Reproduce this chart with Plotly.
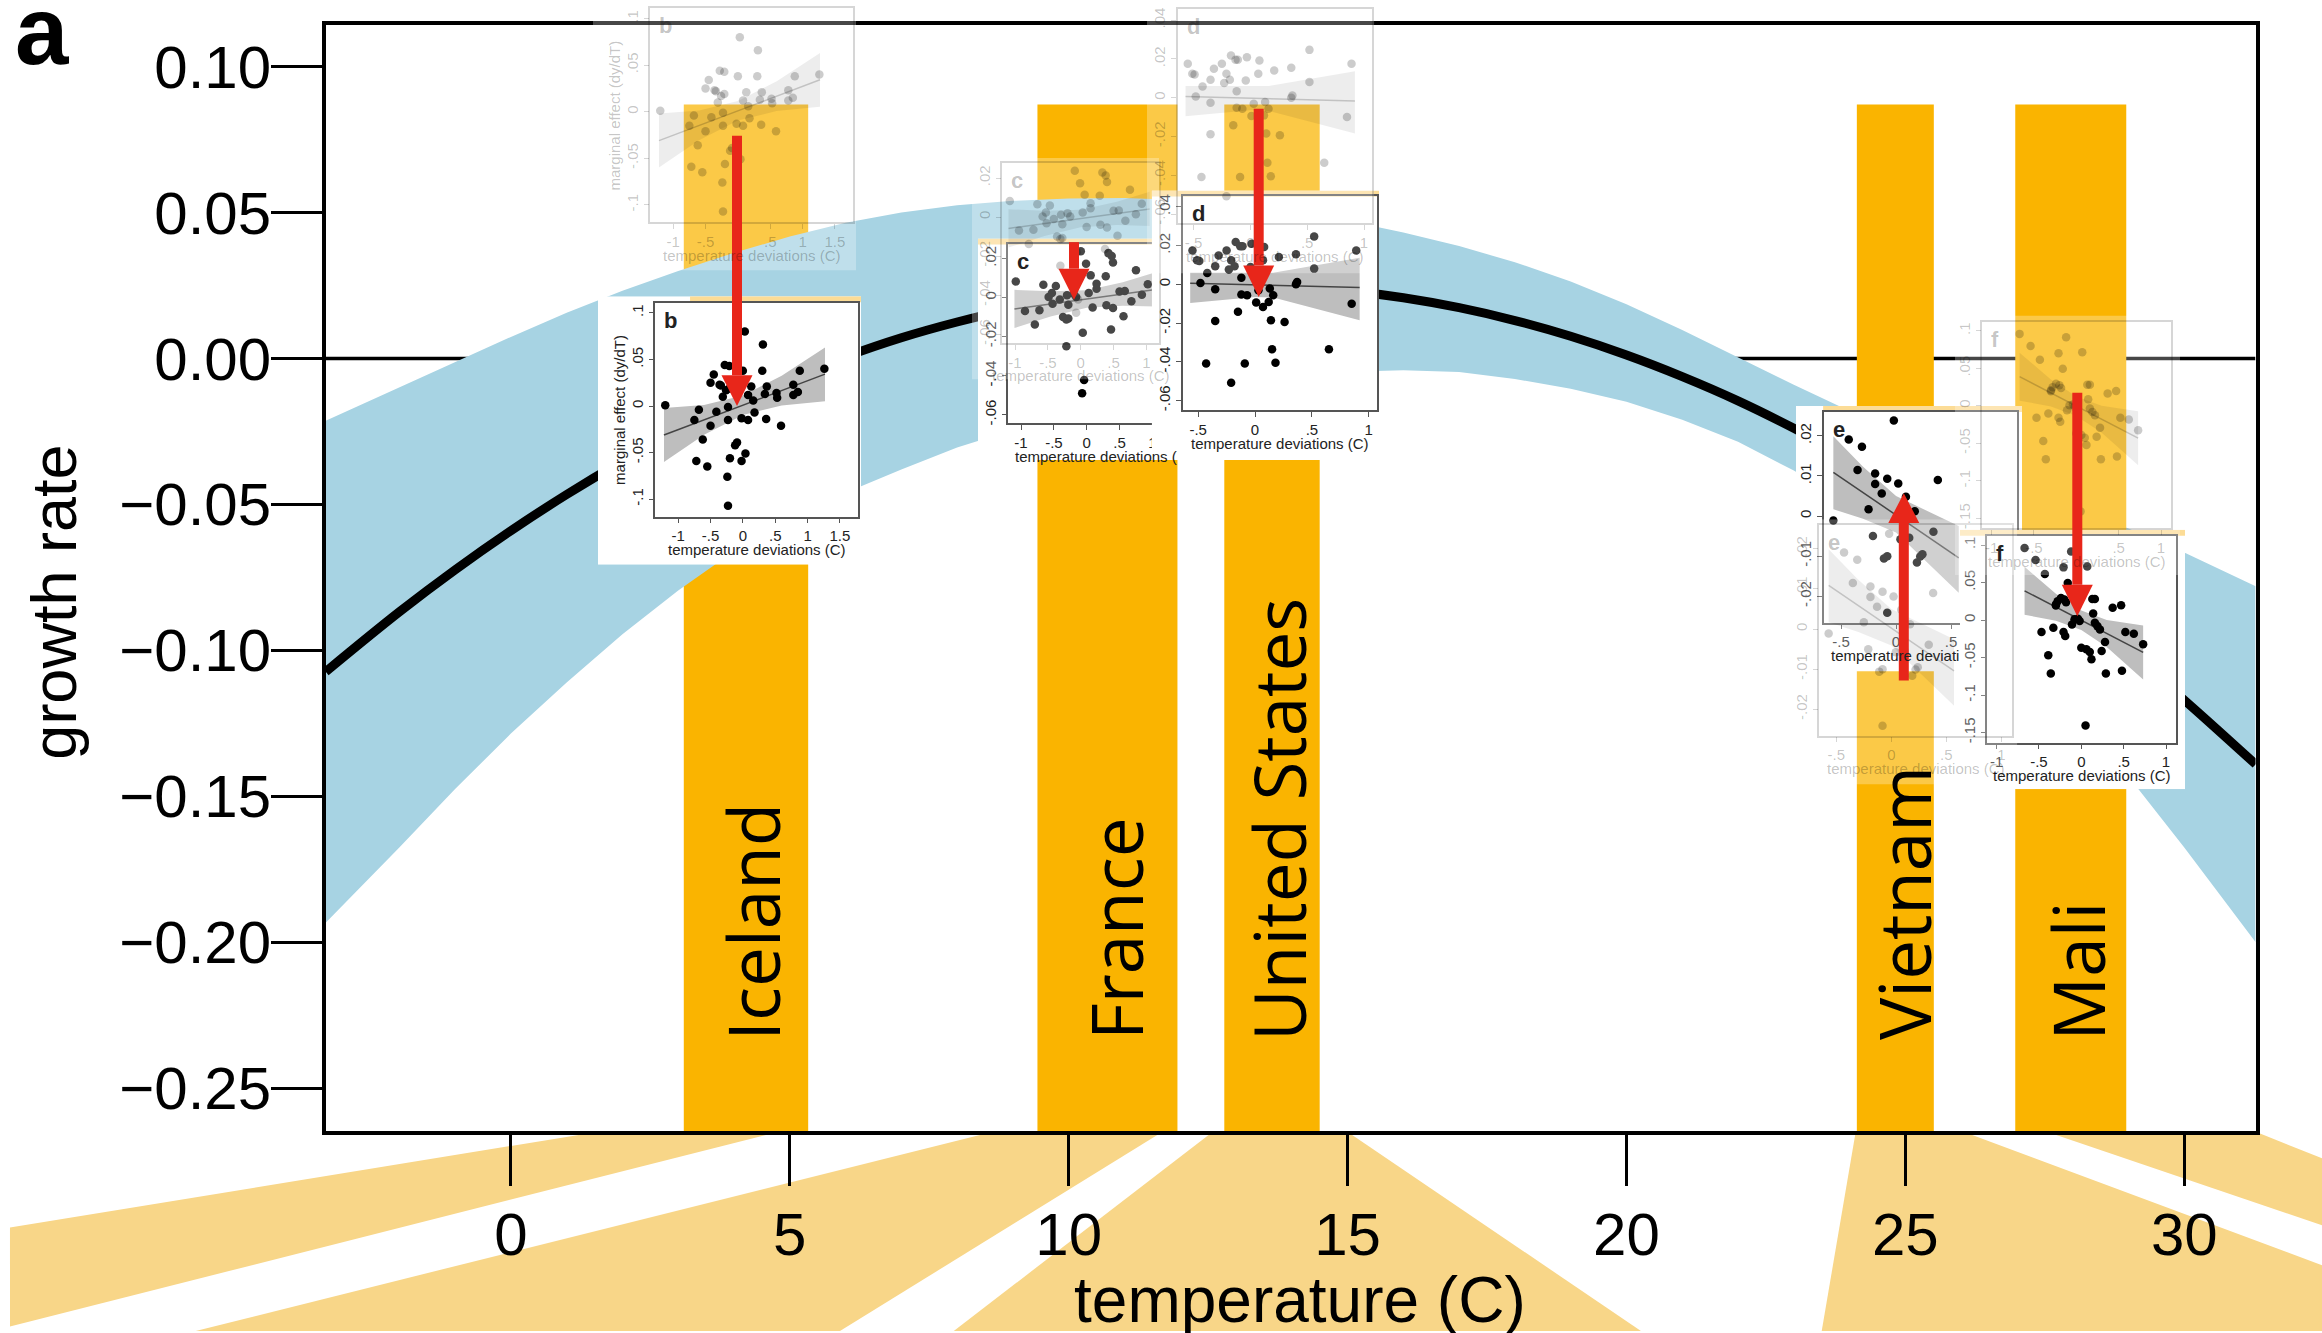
import plotly.graph_objects as go

W, H = 2322, 1333

# ---------------- panel a : global response ----------------
temperature = [-3.32, -2, -1, 0, 1, 2, 3, 4, 5, 6, 7, 8, 9, 10, 11, 12, 13, 14, 15, 16,
               17, 18, 19, 20, 21, 22, 23, 24, 25, 26, 27, 28, 29, 30, 31.28]
growth_rate = [-0.1073, -0.0868, -0.0724, -0.0590, -0.0466, -0.0352, -0.0248, -0.0153, -0.0069, 0.0006,
               0.0071, 0.0125, 0.0170, 0.0205, 0.0231, 0.0246, 0.0251, 0.0247, 0.0232, 0.0208,
               0.0174, 0.0130, 0.0076, 0.0012, -0.0062, -0.0145, -0.0239, -0.0342, -0.0455, -0.0578,
               -0.0711, -0.0854, -0.1007, -0.1170, -0.1390]
band_upper = [-0.0213, -0.0098, -0.0012, 0.0074, 0.0157, 0.0232, 0.0300, 0.0362, 0.0418, 0.0465,
              0.0500, 0.0525, 0.0540, 0.0548, 0.0550, 0.0543, 0.0528, 0.0505, 0.0472, 0.0432,
              0.0385, 0.0330, 0.0264, 0.0186, 0.0098, 0.0005, -0.0090, -0.0180, -0.0265, -0.0343,
              -0.0421, -0.0499, -0.0582, -0.0665, -0.0780]
band_lower = [-0.1933, -0.1675, -0.1475, -0.1285, -0.1110, -0.0945, -0.0795, -0.0660, -0.0550, -0.0460,
              -0.0380, -0.0305, -0.0245, -0.0195, -0.0152, -0.0115, -0.0085, -0.0062, -0.0045, -0.0040,
              -0.0046, -0.0070, -0.0104, -0.0148, -0.0210, -0.0285, -0.0384, -0.0502, -0.0645, -0.0813,
              -0.1001, -0.1209, -0.1432, -0.1675, -0.2000]

countries = ["Iceland", "France", "United States", "Vietnam", "Mali"]
country_tmin = [3.10, 9.44, 12.79, 24.13, 26.97]
country_tmax = [5.33, 11.95, 14.50, 25.51, 28.96]
country_label_t = [4.33, 10.85, 13.77, 24.97, 28.09]
bar_top = 0.087
label_bottom = -0.2343

x_ticks = [0, 5, 10, 15, 20, 25, 30]
y_ticks = [-0.25, -0.20, -0.15, -0.10, -0.05, 0.00, 0.05, 0.10]

# bottom fans: temperature of each vertex, height (0 = figure bottom, 1 = axis line)
fan_t = [[1.60, 4.82, -8.98, -8.98],
         [8.66, 11.69, 5.90, -5.65],
         [12.59, 14.99, 20.26, 7.94],
         [24.11, 26.03, 32.47, 32.47, 23.50],
         [27.52, 31.27, 32.47, 32.47]]
fan_h = [[1.0, 1.0, 0.0225, 0.5185],
         [1.0, 1.0, 0.0, 0.0],
         [1.0, 1.0, 0.0, 0.0],
         [1.0, 1.0, 0.33, 0.0, 0.0],
         [1.0, 1.0, 0.865, 0.53]]

# ---------------- insets b-f : marginal effect vs temperature deviations ----------------
b_dev = [-1.20, -0.75, -0.68, -0.62, -0.72, -0.55, -0.50, -0.50, -0.45, -0.41, -0.36, -0.31, -0.28, -0.21,
         -0.26, -0.23, -0.23, -0.20, -0.24, -0.23, -0.12, -0.09, -0.02, 0.04, -0.02, 0.00, 0.03, 0.08,
         0.08, 0.13, 0.16, 0.18, 0.30, 0.31, 0.34, 0.37, 0.36, 0.52, 0.53, 0.59, 0.78, 0.78, 0.88, 0.85,
         1.26, -0.34, -0.21]
b_eff = [0.001, -0.015, -0.004, -0.036, -0.059, -0.065, -0.021, 0.025, 0.034, -0.006, 0.023, 0.010, 0.044,
         0.043, 0.017, -0.001, -0.015, -0.056, -0.076, -0.107, -0.042, -0.039, -0.059, -0.051, -0.013,
         0.038, 0.080, 0.012, -0.015, 0.021, 0.006, -0.007, 0.038, 0.066, 0.013, 0.021, -0.014, 0.014,
         0.009, -0.021, 0.023, 0.012, 0.038, 0.015, 0.040, 0.022, 0.019]
b_fit_x = [-1.22, 1.27]
b_fit_y = [-0.031, 0.0343]
b_band_x = [-1.22, -0.6, 0.0, 0.6, 1.27]
b_band_hi = [-0.002, 0.0013, 0.0115, 0.0327, 0.063]
b_band_lo = [-0.060, -0.0307, -0.0095, 0.0007, 0.0053]

c_dev = [-1.08, -0.94, -0.79, -0.72, -0.66, -0.58, -0.53, -0.52, -0.47, -0.41, -0.36, -0.31, -0.28, -0.31,
         -0.30, -0.28, -0.20, -0.16, -0.09, -0.06, -0.04, -0.07, -0.01, 0.03, 0.06, 0.09, 0.15, 0.15,
         0.29, 0.30, 0.33, 0.38, 0.40, 0.40, 0.37, 0.50, 0.56, 0.58, 0.68, 0.75, 0.84, 0.93]
c_eff = [0.0083, -0.0068, -0.0138, -0.0065, 0.0066, 0.0003, 0.0024, -0.0031, 0.0060, -0.0010, -0.0099,
         -0.0112, -0.0107, -0.0249, 0.0012, -0.0036, 0.0020, 0.0003, 0.0237, -0.0180, -0.0422, -0.0490,
         0.0174, 0.0024, 0.0114, -0.0051, 0.0071, 0.0046, 0.0109, -0.0039, 0.0228, 0.0213, 0.0180,
         -0.0053, -0.0163, 0.0032, -0.0095, 0.0034, -0.0019, 0.0140, 0.0015, 0.0068]
c_fit_x = [-1.10, 1.05]
c_fit_y = [-0.0058, 0.0042]
c_band_x = [-1.10, -0.55, 0.0, 0.55, 1.05]
c_band_hi = [0.004, 0.0033, 0.0038, 0.0079, 0.013]
c_band_lo = [-0.0156, -0.0097, -0.0052, -0.0041, -0.0046]

d_dev = [-0.55, -0.51, -0.49, -0.48, -0.42, -0.43, -0.35, -0.35, -0.35, -0.32, -0.25, -0.23, -0.21, -0.21,
         -0.18, -0.17, -0.15, -0.13, -0.11, -0.12, -0.12, -0.09, -0.07, -0.04, -0.03, 0.01, 0.03, 0.07,
         0.08, 0.07, 0.12, 0.13, 0.14, 0.15, 0.16, 0.18, 0.21, 0.26, 0.36, 0.37, 0.36, 0.52, 0.52, 0.65,
         0.85, 0.89]
d_eff = [0.0175, 0.0124, 0.0120, 0.0007, 0.0058, -0.0409, 0.0093, -0.0026, -0.0189, 0.0149, 0.0175, 0.0076,
         -0.0508, 0.0124, 0.0093, 0.0218, -0.0142, 0.0196, 0.0196, 0.0034, -0.0052, -0.0409, -0.0057,
         0.0089, 0.0209, -0.0094, -0.0031, -0.0117, 0.0192, 0.0124, -0.0091, -0.0022, -0.0185, -0.0335,
         -0.0057, -0.0405, 0.0141, -0.0194, 0.0155, 0.0012, 0.0000, 0.0247, 0.0081, -0.0335, -0.0100,
         0.0175]
d_fit_x = [-0.57, 0.92]
d_fit_y = [0.0006, -0.0017]
d_band_x = [-0.57, 0.0, 0.16, 0.92]
d_band_hi = [0.006, 0.006, 0.006, 0.0137]
d_band_lo = [-0.0096, -0.0065, -0.0068, -0.0185]

e_dev = [-0.57, -0.43, -0.31, -0.35, -0.25, -0.19, -0.19, -0.21, -0.13, -0.08, -0.02, 0.02, -0.11, -0.08,
         -0.08, 0.04, 0.09, 0.12, 0.17, 0.19, 0.24, 0.22, 0.34, 0.38]
e_eff = [-0.0011, 0.0191, 0.0173, 0.0115, 0.0017, 0.0106, 0.0080, -0.0050, 0.0056, 0.0093, 0.0238, 0.0081,
         -0.0106, -0.0100, -0.0241, -0.0058, 0.0048, -0.0054, 0.0012, -0.0116, -0.0095, -0.0101, -0.0039,
         0.0090]
e_fit_x = [-0.57, 0.57]
e_fit_y = [0.0109, -0.0104]
e_band_x = [-0.57, -0.3, 0.0, 0.3, 0.57]
e_band_hi = [0.0199, 0.0123, 0.005, 0.0011, -0.0025]
e_band_lo = [0.0017, -0.0007, -0.0041, -0.0119, -0.0191]

f_dev = [-0.67, -0.54, -0.43, -0.12, -0.21, 0.07, -0.16, -0.30, -0.28, -0.24, -0.20, -0.18, -0.30, -0.08,
         -0.04, -0.11, -0.02, -0.47, -0.33, -0.21, -0.19, -0.39, -0.36, 0.00, 0.06, 0.10, 0.12, 0.13,
         0.16, 0.14, 0.16, 0.19, 0.22, 0.24, 0.28, 0.29, 0.37, 0.47, 0.48, 0.52, 0.62, 0.73, 0.05]
f_eff = [0.096, 0.080, 0.0615, 0.0915, 0.0703, 0.0716, 0.0495, 0.0195, 0.025, 0.0296, 0.0274, 0.0239,
         0.0208, 0.001, 0.0018, -0.0057, -0.0013, -0.0159, -0.0102, -0.0159, -0.0212, -0.0469, -0.0712,
         -0.0367, -0.0389, -0.0424, -0.0522, 0.0283, 0.0283, 0.0088, -0.0035, -0.008, -0.0124, -0.0411,
         -0.0292, -0.0712, 0.0164, 0.0199, -0.0676, -0.0159, -0.0181, -0.0323, -0.1406]
f_fit_x = [-0.67, 0.73]
f_fit_y = [0.039, -0.043]
f_band_x = [-0.67, -0.3, 0.0, 0.3, 0.73]
f_band_hi = [0.071, 0.0353, 0.0127, 0.0001, -0.0071]
f_band_lo = [0.007, -0.0007, -0.0133, -0.0359, -0.0791]

# ---------------- styles ----------------
ORANGE = "#FAB400"
BLUE = "#A7D3E3"
FAN = "#F8D688"
STRIP = "#FCDC96"
RED = "#E8261A"
MAIN_FONT = "Liberation Sans"

fig = go.Figure()
layout = dict(width=W, height=H, margin=dict(l=0, r=0, t=0, b=0), paper_bgcolor="white",
              plot_bgcolor="rgba(0,0,0,0)", showlegend=False, hovermode=False, dragmode=False)
annotations = []
shapes = []
HIDDEN = dict(visible=False)


def xd(p0, p1):
    return [p0 / W, p1 / W]


def yd(top, bottom):
    return [1 - bottom / H, 1 - top / H]


_count = [0]


def new_axes(xdom, ydom, xr, yr, xkw=None, ykw=None):
    _count[0] += 1
    n = _count[0]
    s = "" if n == 1 else str(n)
    xa = dict(domain=xdom, range=xr, anchor="y" + s, showgrid=False, zeroline=False, fixedrange=True)
    ya = dict(domain=ydom, range=yr, anchor="x" + s, showgrid=False, zeroline=False, fixedrange=True)
    if xkw:
        xa.update(xkw)
    if ykw:
        ya.update(ykw)
    layout["xaxis" + s] = xa
    layout["yaxis" + s] = ya
    return "x" + s, "y" + s


def poly(xs, ys, color, ax, ay):
    fig.add_trace(go.Scatter(x=list(xs) + [xs[0]], y=list(ys) + [ys[0]], mode="lines", fill="toself",
                             fillcolor=color, line=dict(width=0), xaxis=ax, yaxis=ay,
                             hoverinfo="skip"))


# ---- bottom fans subplot (drawn first, under the main axis) ----
fx, fy = new_axes([0, 1], [0, 200 / H], [-9.159, 32.469], [0, 1], HIDDEN, HIDDEN)
for ts, hs in zip(fan_t, fan_h):
    poly(ts, hs, FAN, fx, fy)

# ---- main subplot ----
X_RANGE = [-3.318, 31.277]
Y_RANGE = [-0.2648, 0.1141]
axis_common = dict(ticks="outside", ticklen=51, tickwidth=3, tickcolor="black", showline=True,
                   linewidth=3.5, linecolor="black", mirror=True,
                   tickfont=dict(family=MAIN_FONT, size=60, color="black"))
mx, my = new_axes(xd(325.8, 2255.5), yd(24.5, 1133), X_RANGE, Y_RANGE,
                  dict(tickmode="array", tickvals=x_ticks, ticklabelstandoff=-3, **axis_common),
                  dict(tickmode="array", tickvals=y_ticks, tickformat=".2f", ticklabelstandoff=-12,
                       **axis_common))

fig.add_trace(go.Scatter(x=X_RANGE, y=[0, 0], mode="lines", line=dict(color="black", width=3.5),
                         xaxis=mx, yaxis=my, hoverinfo="skip"))


def country_bar(i):
    poly([country_tmin[i], country_tmax[i], country_tmax[i], country_tmin[i]],
         [Y_RANGE[0], Y_RANGE[0], bar_top, bar_top], ORANGE, mx, my)


for i in range(3):
    country_bar(i)
poly(temperature + temperature[::-1], band_upper + band_lower[::-1], BLUE, mx, my)
for i in range(3, 5):
    country_bar(i)
fig.add_trace(go.Scatter(x=temperature, y=growth_rate, mode="lines",
                         line=dict(color="black", width=9, shape="spline"),
                         xaxis=mx, yaxis=my, hoverinfo="skip"))

for name, t in zip(countries, country_label_t):
    annotations.append(dict(xref=mx, yref=my, x=t, y=label_bottom, text=name, textangle=-90,
                            showarrow=False, xanchor="center", yanchor="bottom",
                            font=dict(family="Open Sans", size=71, color="black")))

annotations.append(dict(xref="paper", yref="paper", x=42 / W, y=1 - 30 / H, text="<b>a</b>",
                        showarrow=False, xanchor="center", yanchor="middle",
                        font=dict(family=MAIN_FONT, size=96, color="black")))
annotations.append(dict(xref="paper", yref="paper", x=54 / W, y=1 - 603 / H, text="growth rate",
                        textangle=-90, showarrow=False, xanchor="center", yanchor="middle",
                        font=dict(family=MAIN_FONT, size=63, color="black")))
annotations.append(dict(xref="paper", yref="paper", x=1300 / W, y=1 - 1302 / H, text="temperature (C)",
                        showarrow=False, xanchor="center", yanchor="middle",
                        font=dict(family=MAIN_FONT, size=64, color="black")))

# ---- insets ----
inset_specs = [
    dict(letter="b", dev=b_dev, eff=b_eff, fit_x=b_fit_x, fit_y=b_fit_y,
         band_x=b_band_x, band_hi=b_band_hi, band_lo=b_band_lo,
         xr=[-1.354, 1.780], yr=[-0.1186, 0.1111],
         xt=[-1, -0.5, 0, 0.5, 1, 1.5], xtt=["-1", "-.5", "0", ".5", "1", "1.5"],
         yt=[0.1, 0.05, 0, -0.05, -0.1], ytt=[".1", ".05", "0", "-.05", "-.1"],
         frame=(655.3, 858, 302.3, 516.7), box=(598, 861, 296, 565), shift=(-5, -295),
         strip=0.35, cut=None, ytitle="marginal effect (dy/dT)"),
    dict(letter="c", dev=c_dev, eff=c_eff, fit_x=c_fit_x, fit_y=c_fit_y,
         band_x=c_band_x, band_hi=c_band_hi, band_lo=c_band_lo,
         xr=[-1.194, 1.192], yr=[-0.0644, 0.0276],
         xt=[-1, -0.5, 0, 0.5, 1], xtt=["-1", "-.5", "0", ".5", "1"],
         yt=[0.02, 0, -0.02, -0.04, -0.06], ytt=[".02", "0", "-.02", "-.04", "-.06"],
         frame=(1008.3, 1165, 243.3, 423.3), box=(978, 1165, 238, 460), shift=(-6, -80.7),
         strip=0.0, cut="temperature deviations (", ytitle=None),
    dict(letter="d", dev=d_dev, eff=d_eff, fit_x=d_fit_x, fit_y=d_fit_y,
         band_x=d_band_x, band_hi=d_band_hi, band_lo=d_band_lo,
         xr=[-0.636, 1.070], yr=[-0.0649, 0.0458],
         xt=[-0.5, 0, 0.5, 1], xtt=["-.5", "0", ".5", "1"],
         yt=[0.04, 0.02, 0, -0.02, -0.04, -0.06], ytt=[".04", ".02", "0", "-.02", "-.04", "-.06"],
         frame=(1182.7, 1376.7, 195, 410), box=(1151.7, 1379, 190, 460), shift=(-4.7, -187),
         strip=0.0, cut=None, ytitle=None),
    dict(letter="e", dev=e_dev, eff=e_eff, fit_x=e_fit_x, fit_y=e_fit_y,
         band_x=e_band_x, band_hi=e_band_hi, band_lo=e_band_lo,
         xr=[-0.655, 1.097], yr=[-0.02656, 0.026],
         xt=[-0.5, 0, 0.5, 1], xtt=["-.5", "0", ".5", "1"],
         yt=[0.02, 0.01, 0, -0.01, -0.02], ytt=[".02", ".01", "0", "-.01", "-.02"],
         frame=(1824, 2016.7, 411.7, 623), box=(1796, 2022, 406, 672), shift=(-4.7, 113.3),
         strip=0.12, cut="temperature deviati", ytitle=None),
    dict(letter="f", dev=f_dev, eff=f_eff, fit_x=f_fit_x, fit_y=f_fit_y,
         band_x=f_band_x, band_hi=f_band_hi, band_lo=f_band_lo,
         xr=[-1.110, 1.118], yr=[-0.1633, 0.1124],
         xt=[-1, -0.5, 0, 0.5, 1], xtt=["-1", "-.5", "0", ".5", "1"],
         yt=[0.1, 0.05, 0, -0.05, -0.1, -0.15], ytt=[".1", ".05", "0", "-.05", "-.1", "-.15"],
         frame=(1987.3, 2176, 536, 743.3), box=(1960, 2185, 530, 790), shift=(-5, -214.7),
         strip=0.0, cut=None, ytitle=None),
]


def add_inset(sp, ghost):
    dx, dy = sp["shift"] if ghost else (0, 0)
    f0, f1, ft, fb = sp["frame"]
    f0, f1, ft, fb = f0 + dx, f1 + dx, ft + dy, fb + dy
    b0, b1, bt, bb = sp["box"]
    b0, b1, bt, bb = b0 + dx, b1 + dx, bt + dy, bb + dy
    if ghost:
        bg, frame_c, txt = "rgba(255,255,255,0.28)", "rgba(0,0,0,0.16)", "rgba(0,0,0,0.24)"
        dot, band_c, line_c = "rgba(0,0,0,0.2)", "rgba(0,0,0,0.07)", "rgba(0,0,0,0.18)"
    else:
        bg, frame_c, txt = "white", "#555555", "#222222"
        dot, band_c, line_c = "black", "#BEBEBE", "#444444"

    ax, ay = new_axes(xd(b0, b1), yd(bt, bb), [0, 1], [0, 1], HIDDEN, HIDDEN)
    poly([0, 1, 1, 0], [0, 0, 1, 1], bg, ax, ay)
    if not ghost:
        h = 6.0 / (bb - bt)
        poly([sp["strip"], 1, 1, sp["strip"]], [1 - h, 1 - h, 1, 1], STRIP, ax, ay)

    common = dict(ticks="outside", ticklen=5, tickwidth=1.2, tickcolor=frame_c, showline=True,
                  linewidth=1.5, linecolor=frame_c, mirror=True, tickmode="array",
                  tickfont=dict(family=MAIN_FONT, size=15, color=txt))
    ax, ay = new_axes(xd(f0, f1), yd(ft, fb), sp["xr"], sp["yr"],
                      dict(tickvals=sp["xt"], ticktext=sp["xtt"], **common),
                      dict(tickvals=sp["yt"], ticktext=sp["ytt"], tickangle=-90, **common))
    poly(sp["band_x"] + sp["band_x"][::-1], sp["band_hi"] + sp["band_lo"][::-1], band_c, ax, ay)
    fig.add_trace(go.Scatter(x=sp["fit_x"], y=sp["fit_y"], mode="lines",
                             line=dict(color=line_c, width=1.5), xaxis=ax, yaxis=ay, hoverinfo="skip"))
    fig.add_trace(go.Scatter(x=sp["dev"], y=sp["eff"], mode="markers",
                             marker=dict(color=dot, size=8.5, line=dict(width=0)),
                             xaxis=ax, yaxis=ay, hoverinfo="skip"))

    annotations.append(dict(xref="paper", yref="paper", x=(f0 + 8) / W, y=1 - (ft + 4) / H,
                            text="<b>%s</b>" % sp["letter"], showarrow=False, xanchor="left",
                            yanchor="top", borderpad=0,
                            font=dict(family=MAIN_FONT, size=22, color=txt)))
    title_font = dict(family=MAIN_FONT, size=15, color=txt)
    if sp["cut"] and not ghost:
        annotations.append(dict(xref="paper", yref="paper", x=(f0 + 5) / W, y=1 - (fb + 33) / H,
                                text=sp["cut"], showarrow=False, xanchor="left", yanchor="middle",
                                font=title_font))
    else:
        annotations.append(dict(xref="paper", yref="paper", x=(f0 + f1) / 2 / W, y=1 - (fb + 33) / H,
                                text="temperature deviations (C)", showarrow=False, xanchor="center",
                                yanchor="middle", font=title_font))
    if sp["ytitle"]:
        annotations.append(dict(xref="paper", yref="paper", x=(f0 - 36) / W, y=1 - (ft + fb) / 2 / H,
                                text=sp["ytitle"], textangle=-90, showarrow=False, xanchor="center",
                                yanchor="middle", font=title_font))


for sp in inset_specs:
    add_inset(sp, False)
for sp in inset_specs:
    add_inset(sp, True)

# ---- red arrows (ghost position -> current position) ----
arrows = [  # centre x, tail y, head base y, tip y  (pixels)
    (737, 135, 375, 406),
    (1074, 241.7, 268.3, 299.3),
    (1258.7, 108, 265, 296.7),
    (1903.8, 681, 523.3, 493.3),
    (2077.3, 392.7, 585, 616.7),
]
for cx, ytail, ybase, ytip in arrows:
    shapes.append(dict(type="rect", xref="paper", yref="paper", layer="above",
                       x0=(cx - 5) / W, x1=(cx + 5) / W, y0=1 - ytail / H, y1=1 - ybase / H,
                       fillcolor=RED, line=dict(width=0)))
    shapes.append(dict(type="path", xref="paper", yref="paper", layer="above",
                       path="M %f,%f L %f,%f L %f,%f Z" % ((cx - 15.5) / W, 1 - ybase / H,
                                                       (cx + 15.5) / W, 1 - ybase / H,
                                                       cx / W, 1 - ytip / H),
                       fillcolor=RED, line=dict(width=0)))

layout["annotations"] = annotations
layout["shapes"] = shapes
fig.update_layout(layout)
fig.write_html("out.html", config={"displayModeBar": False},
               post_script="document.body.style.margin='0';document.body.style.overflow='hidden';")
